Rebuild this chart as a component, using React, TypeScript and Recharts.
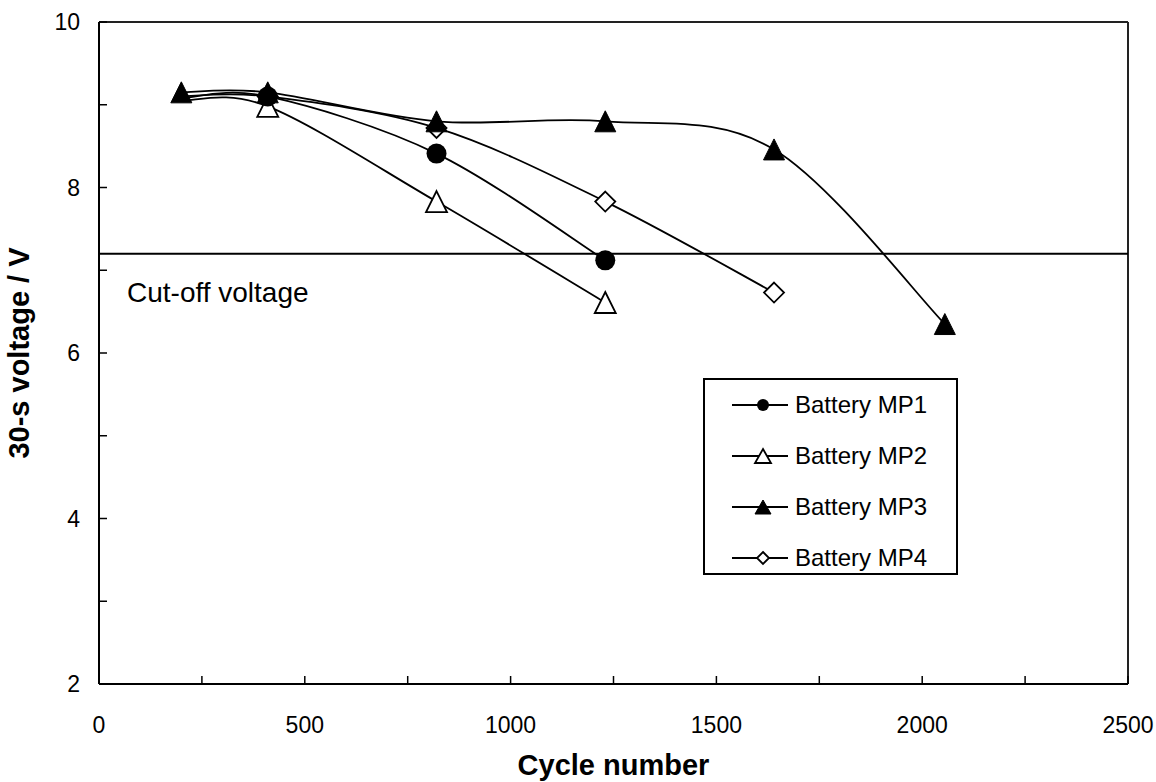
import type { ReactElement } from 'react';
import { Legend, Line, LineChart, ReferenceLine, XAxis, YAxis } from 'recharts';

// values
const cycles = [200, 410, 820, 1230, 1640, 2055];
const mp1 = [9.08, 9.1, 8.41, 7.12];
const mp2 = [9.05, 8.98, 7.83, 6.61];
const mp3 = [9.15, 9.15, 8.8, 8.8, 8.46, 6.35];
const mp4 = [9.1, 9.1, 8.72, 7.83, 6.73];
const cutOffVoltage = 7.2;

const xTicks = [0, 250, 500, 750, 1000, 1250, 1500, 1750, 2000, 2250, 2500];
const xTickLabels = [0, 500, 1000, 1500, 2000, 2500];
const yTicks = [2, 3, 4, 5, 6, 7, 8, 9, 10];
const yTickLabels = [2, 4, 6, 8, 10];

type Shape = 'circle' | 'triangle' | 'triangleOpen' | 'diamond';

type Series = { key: string; name: string; shape: Shape; hideFirst: boolean };

const series: Series[] = [
  { key: 'mp1', name: 'Battery MP1', shape: 'circle', hideFirst: true },
  { key: 'mp2', name: 'Battery MP2', shape: 'triangleOpen', hideFirst: true },
  { key: 'mp3', name: 'Battery MP3', shape: 'triangle', hideFirst: false },
  { key: 'mp4', name: 'Battery MP4', shape: 'diamond', hideFirst: true },
];

const data = cycles.map((cycle, i) => ({
  cycle,
  mp1: mp1[i],
  mp2: mp2[i],
  mp3: mp3[i],
  mp4: mp4[i],
}));

const FONT = '"Liberation Sans", Arial, sans-serif';

// Excel-style smoothed line (uniform Catmull-Rom as cubic beziers)
function smoothCurve(context: any) {
  let pts: [number, number][] = [];
  return {
    areaStart() {},
    areaEnd() {},
    lineStart() {
      pts = [];
    },
    point(x: number, y: number) {
      pts.push([+x, +y]);
    },
    lineEnd() {
      const n = pts.length;
      if (!n) return;
      context.moveTo(pts[0][0], pts[0][1]);
      for (let i = 0; i < n - 1; i++) {
        const p0 = pts[i - 1] ?? pts[i];
        const p1 = pts[i];
        const p2 = pts[i + 1];
        const p3 = pts[i + 2] ?? p2;
        context.bezierCurveTo(
          p1[0] + (p2[0] - p0[0]) / 6,
          p1[1] + (p2[1] - p0[1]) / 6,
          p2[0] - (p3[0] - p1[0]) / 6,
          p2[1] - (p3[1] - p1[1]) / 6,
          p2[0],
          p2[1],
        );
      }
    },
  };
}

function Marker({
  shape,
  cx,
  cy,
  w,
  h,
}: {
  shape: Shape;
  cx: number;
  cy: number;
  w: number;
  h: number;
}): ReactElement {
  if (shape === 'circle') {
    return <circle cx={cx} cy={cy} r={w / 2} fill="#000" />;
  }
  if (shape === 'diamond') {
    const pts = `${cx},${cy - h / 2} ${cx + w / 2},${cy} ${cx},${cy + h / 2} ${cx - w / 2},${cy}`;
    return <polygon points={pts} fill="#fff" stroke="#000" strokeWidth={1.8} />;
  }
  const pts = `${cx},${cy - h / 2} ${cx + w / 2},${cy + h / 2} ${cx - w / 2},${cy + h / 2}`;
  const open = shape === 'triangleOpen';
  return (
    <polygon
      points={pts}
      fill={open ? '#fff' : '#000'}
      stroke="#000"
      strokeWidth={open ? 1.8 : 1}
    />
  );
}

const makeDot = (s: Series) => (props: any): ReactElement => {
  const { cx, cy, index, value } = props;
  const k = `${s.key}-dot-${index}`;
  if (cx == null || cy == null || value == null || (s.hideFirst && index === 0)) {
    return <g key={k} />;
  }
  const size = s.shape === 'triangle' || s.shape === 'triangleOpen' ? 21 : 20;
  return <Marker key={k} shape={s.shape} cx={cx} cy={cy} w={size} h={size} />;
};

function LegendBox(): ReactElement {
  return (
    <div
      style={{
        border: '2px solid #000',
        background: '#fff',
        width: 255,
        height: 197,
        boxSizing: 'border-box',
        fontFamily: FONT,
        fontSize: 24,
        color: '#000',
      }}
    >
      <div style={{ marginTop: -1 }}>
        {series.map((s) => (
          <div
            key={s.key}
            style={{ display: 'flex', alignItems: 'center', height: 51, paddingLeft: 27 }}
          >
            <svg width={56} height={20} style={{ display: 'block' }}>
              <line x1={0} x2={56} y1={10} y2={10} stroke="#000" strokeWidth={1.8} />
              <Marker
                shape={s.shape}
                cx={31}
                cy={10}
                w={s.shape === 'circle' || s.shape === 'diamond' ? 12 : 16}
                h={s.shape === 'circle' || s.shape === 'diamond' ? 12 : 14}
              />
            </svg>
            <span style={{ marginLeft: 7, lineHeight: 1 }}>{s.name}</span>
          </div>
        ))}
      </div>
    </div>
  );
}

export default function App(): ReactElement {
  const tickStyle = { fill: '#000', fontSize: 23, fontFamily: FONT };
  const titleStyle = { fill: '#000', fontSize: 29, fontWeight: 700, fontFamily: FONT };

  return (
    <div style={{ position: 'absolute', left: 0, top: 0, background: '#fff' }}>
      <LineChart
        width={1156}
        height={782}
        data={data}
        margin={{ top: 22, right: 28, bottom: 38, left: 39 }}
      >
        <XAxis
          type="number"
          dataKey="cycle"
          domain={[0, 2500]}
          ticks={xTicks}
          interval={0}
          height={60}
          allowDataOverflow
          axisLine={{ stroke: '#000', strokeWidth: 2 }}
          tickLine={{ stroke: '#000', strokeWidth: 1.5 }}
          tickSize={-8}
          tickMargin={41}
          tick={tickStyle}
          tickFormatter={(v: number) => (xTickLabels.includes(v) ? String(v) : '')}
          label={{ value: 'Cycle number', position: 'bottom', offset: 10, style: titleStyle }}
        />
        <YAxis
          type="number"
          domain={[2, 10]}
          ticks={yTicks}
          interval={0}
          width={60}
          allowDataOverflow
          axisLine={{ stroke: '#000', strokeWidth: 2 }}
          tickLine={{ stroke: '#000', strokeWidth: 1.5 }}
          tickSize={-8}
          tickMargin={27}
          tick={tickStyle}
          tickFormatter={(v: number) => (yTickLabels.includes(v) ? String(v) : '')}
          label={{
            value: '30-s voltage / V',
            angle: -90,
            position: 'insideLeft',
            offset: -17,
            dx: -3,
            style: { ...titleStyle, textAnchor: 'middle' },
          }}
        />
        <ReferenceLine y={10} stroke="#222" strokeWidth={2} />
        <ReferenceLine x={2500} stroke="#222" strokeWidth={2} />
        <ReferenceLine
          y={cutOffVoltage}
          stroke="#000"
          strokeWidth={2}
          label={{
            value: 'Cut-off voltage',
            position: 'insideTopLeft',
            offset: 28,
            style: { fill: '#000', fontSize: 28, fontFamily: FONT },
          }}
        />
        <Legend
          layout="vertical"
          align="center"
          verticalAlign="middle"
          content={<LegendBox />}
          wrapperStyle={{ left: 703, top: 378, width: 255, height: 197 }}
        />
        {[series[3], series[2], series[1], series[0]].map((s) => (
          <Line
            key={s.key}
            dataKey={s.key}
            name={s.name}
            type={smoothCurve as any}
            stroke="#000"
            strokeWidth={1.8}
            dot={makeDot(s)}
            activeDot={false}
            isAnimationActive={false}
          />
        ))}
      </LineChart>
    </div>
  );
}
